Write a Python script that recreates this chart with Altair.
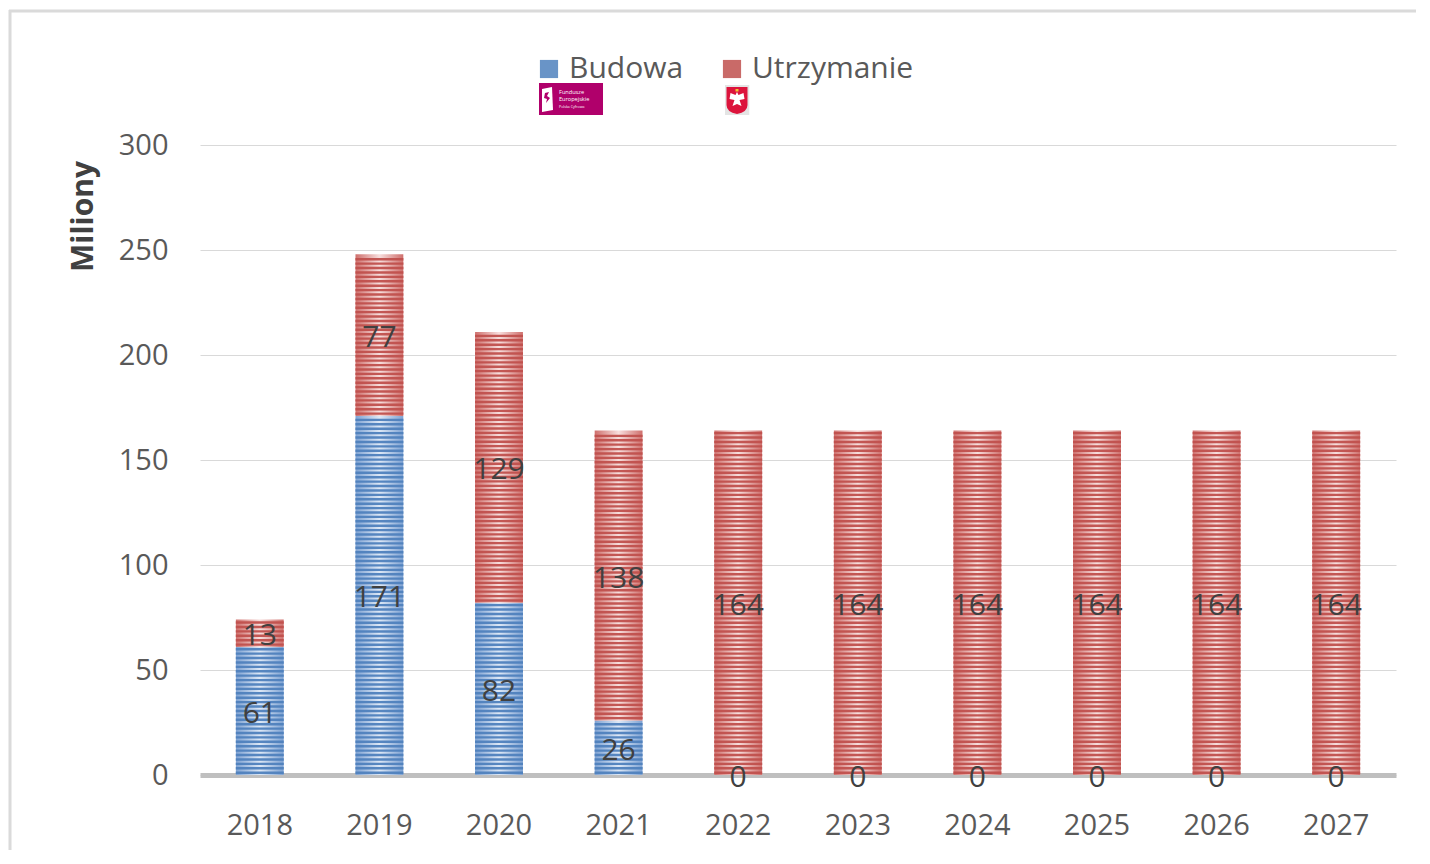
import base64
import altair as alt
import pandas as pd

years = ["2018", "2019", "2020", "2021", "2022", "2023", "2024", "2025", "2026", "2027"]
budowa = [61, 171, 82, 26, 0, 0, 0, 0, 0, 0]
utrzymanie = [13, 77, 129, 138, 164, 164, 164, 164, 164, 164]
series = ["Budowa", "Utrzymanie"]
y_ticks = [0, 50, 100, 150, 200, 250, 300]

rows = []
for yr, b, u in zip(years, budowa, utrzymanie):
    rows.append({"year": yr, "series": "Budowa", "value": b, "start": 0, "end": b})
    rows.append({"year": yr, "series": "Utrzymanie", "value": u, "start": b, "end": b + u})
df = pd.DataFrame(rows)

FONT = "Open Sans"
x_enc = alt.X("year:N", sort=years,
              scale=alt.Scale(paddingInner=0.6, paddingOuter=0.3),
              axis=alt.Axis(title=None, labelAngle=0, ticks=False, grid=False,
                            domainColor="#BFBFBF", domainWidth=5,
                            labelFontSize=29, labelColor="#595959", labelPadding=36,
                            labelFont=FONT))
y_scale = alt.Scale(domain=[0, 300], nice=False)
y_axis = alt.Axis(values=y_ticks, grid=True, gridColor="#D9D9D9", gridWidth=1,
                  domain=False, ticks=False, labelFontSize=29, labelColor="#595959",
                  labelPadding=32, labelFont=FONT,
                  title="Miliony", titleFontSize=30, titleFontWeight="bold",
                  titleColor="#404040", titleFont=FONT, titleAngle=270,
                  titleAlign="center", titleBaseline="middle", titleX=-117, titleY=71)


def hgrad(edge, center):
    return alt.LinearGradient(gradient="linear", x1=0, x2=1, y1=0, y2=0,
                              stops=[alt.GradientStop(offset=0, color=edge),
                                     alt.GradientStop(offset=0.5, color=center),
                                     alt.GradientStop(offset=1, color=edge)])


base = alt.Chart(df)

bars_b = base.transform_filter(alt.datum.series == "Budowa").mark_bar(
    color=hgrad("#7FA3D3", "#DDE8F6")
).encode(x=x_enc, y=alt.Y("start:Q", scale=y_scale, axis=y_axis), y2="end:Q")

bars_u = base.transform_filter(alt.datum.series == "Utrzymanie").mark_bar(
    color=hgrad("#CF706D", "#F7DEDD")
).encode(x=x_enc, y=alt.Y("start:Q", scale=y_scale), y2="end:Q")

stripes = base.transform_calculate(
    s="sequence(datum.start + 1.1, datum.end - 0.5, 2.1)"
).transform_flatten(["s"]).mark_tick(thickness=2.4, size=48, opacity=0.95).encode(
    x=alt.X("year:N", sort=years),
    y=alt.Y("s:Q", scale=y_scale),
    color=alt.Color("series:N",
                    scale=alt.Scale(domain=series, range=["#4F81BD", "#C0504D"]),
                    legend=alt.Legend(title=None, orient="none", legendX=334, legendY=-91,
                                      direction="horizontal", symbolType="square",
                                      symbolSize=330, symbolStrokeWidth=0,
                                      symbolOpacity=0.85, labelLimit=0,
                                      labelFontSize=30, labelColor="#595959",
                                      labelFont=FONT, columnPadding=33, labelOffset=5))
)

labels = base.transform_calculate(mid="(datum.start + datum.end) / 2").mark_text(
    fontSize=30, color="#404040", font=FONT, baseline="middle", dy=3
).encode(x=alt.X("year:N", sort=years), y=alt.Y("mid:Q", scale=y_scale), text="value:Q")

fe_svg = """<svg xmlns='http://www.w3.org/2000/svg' width='64' height='32' viewBox='0 0 64 32'>
<rect width='64' height='32' fill='#B0006B'/>
<path d='M3 6 L13 4 L14 27 L3 29 Z' fill='white'/>
<path d='M6 10 L10 9 L8 13 L11 15 L7 20 L8 16 L5 15 Z' fill='#B0006B'/>
<text x='20' y='11' font-family='Open Sans' font-size='5.6' fill='white'>Fundusze</text>
<text x='20' y='18' font-family='Open Sans' font-size='5.6' fill='white'>Europejskie</text>
<text x='20' y='25' font-family='Open Sans' font-size='3.6' fill='white'>Polska Cyfrowa</text>
</svg>"""
pl_svg = """<svg xmlns='http://www.w3.org/2000/svg' width='25' height='30' viewBox='0 0 25 30'>
<rect width='25' height='30' fill='#E4E4E4'/>
<path d='M2 2 H23 V20 Q23 27 12.5 29 Q2 27 2 20 Z' fill='#DC143C'/>
<path d='M12.5 7 L14 10 L19 8 L20 14 L15 15 L17 21 L12.5 19 L8 21 L10 15 L5 14 L6 8 L11 10 Z' fill='white'/>
<rect x='11' y='4' width='3' height='2.5' fill='#F2C230'/>
</svg>"""


def uri(svg):
    return "data:image/svg+xml;base64," + base64.b64encode(svg.encode()).decode()


logo_fe = alt.Chart(pd.DataFrame({"url": [uri(fe_svg)]})).mark_image(
    width=64, height=32, align="center", baseline="middle"
).encode(x=alt.value(371), y=alt.value(-46), url="url:N")
logo_pl = alt.Chart(pd.DataFrame({"url": [uri(pl_svg)]})).mark_image(
    width=25, height=30, align="center", baseline="middle"
).encode(x=alt.value(537), y=alt.value(-45), url="url:N")

frame_df = pd.DataFrame({"k": [0]})
frame_left = alt.Chart(frame_df).mark_rule(color="#DADADA", strokeWidth=3).encode(
    x=alt.value(-190), y=alt.value(-135), y2=alt.value(705))
frame_top = alt.Chart(frame_df).mark_rule(color="#DADADA", strokeWidth=3).encode(
    x=alt.value(-191), x2=alt.value(1230), y=alt.value(-134))

chart = alt.layer(frame_left, frame_top, bars_b, bars_u, stripes, labels, logo_fe, logo_pl).properties(
    width=1196, height=630,
    autosize=alt.AutoSizeParams(type="none"),
    padding={"left": 192, "top": 137, "right": 20, "bottom": 75},
    background="white",
).configure(font=FONT, view=alt.ViewConfig(stroke=None))

chart.save("out.html", embed_options={"renderer": "svg", "actions": False})
